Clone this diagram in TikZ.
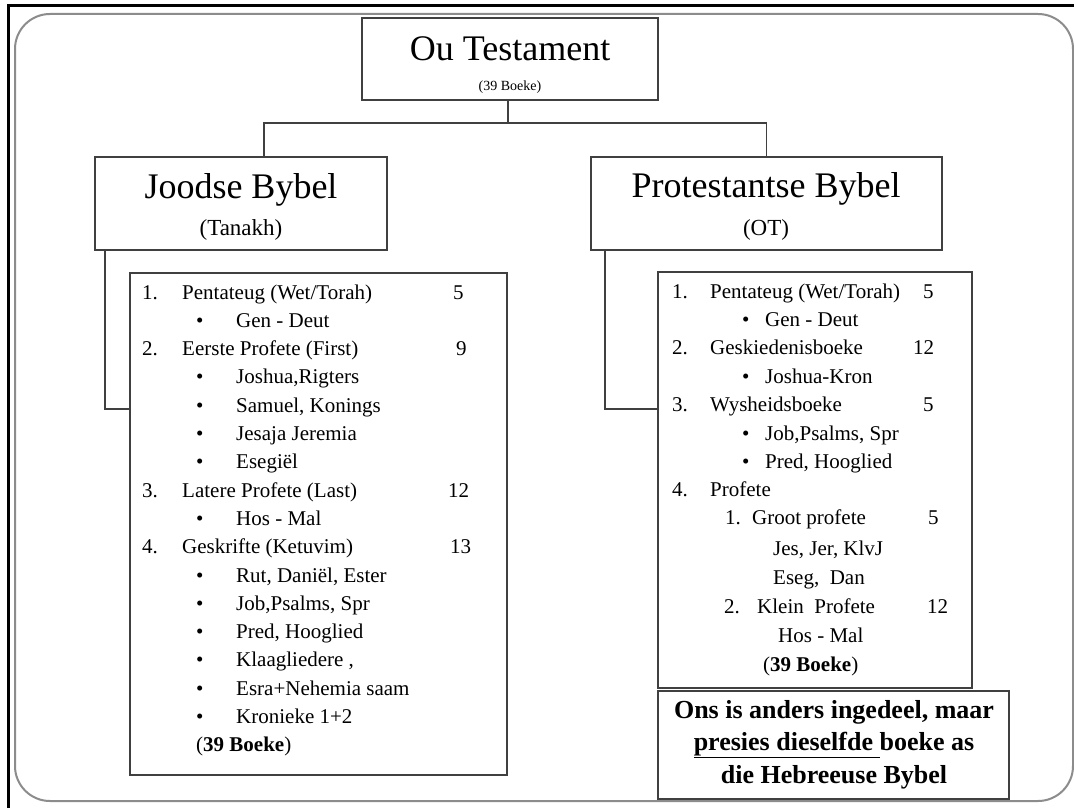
\documentclass[tikz,border=0pt]{standalone}
\usepackage{fontspec}
\setmainfont{Liberation Serif}
\definecolor{boxline}{HTML}{404040}
\definecolor{frameg}{HTML}{8C8C8C}
\newcommand\lfnt{\fontsize{21}{25}\selectfont}
\newcommand\hfnt{\fontsize{36}{40}\selectfont}
\newcommand\subfnt{\fontsize{23}{27}\selectfont}
\newcommand\nfnt{\fontsize{26}{30}\selectfont\bfseries}
\begin{document}
\begin{tikzpicture}[x=1pt,y=-1pt,
  bx/.style={draw=boxline,line width=1.3pt,anchor=north west,inner sep=0pt,outer sep=0pt},
  conn/.style={draw=boxline,line width=1.3pt},
  lt/.style={anchor=base west,inner sep=0pt,font=\lfnt},
  ct/.style={anchor=base,inner sep=0pt}]
\useasboundingbox (0,0) rectangle (1074,808);
\fill[white] (0,0) rectangle (1074,808);
% outer frame
\draw[line width=3pt,black] (8,808) -- (8,6) -- (1074,6);
\draw[frameg,line width=2pt,rounded corners=35pt] (15,14) rectangle (1073,801);
% boxes
\node[bx,minimum width=296pt,minimum height=82pt] (ot) at (362,18) {};
\node[bx,minimum width=292pt,minimum height=93pt] (jb) at (95,157) {};
\node[bx,minimum width=351pt,minimum height=93pt] (pb) at (591,157) {};
\node[bx,minimum width=377pt,minimum height=502pt] (jl) at (130,273) {};
\node[bx,minimum width=314pt,minimum height=416pt] (pl) at (658,272) {};
\node[bx,minimum width=351pt,minimum height=108pt] (note) at (658,691) {};
% connectors
\coordinate (j) at (508,123);
\coordinate (jtop) at (264,157);
\coordinate (jbot) at (105,250);
\coordinate (jin) at (130,409);
\coordinate (pbot) at (605,250);
\coordinate (pin) at (658,409);
\draw[conn] (ot.south -| j) -- (j);
\draw[conn] (jtop) |- (j) -| (pb.north);
\draw[conn] (jbot) |- (jin);
\draw[conn] (pbot) |- (pin);
% headings
\node[ct,font=\hfnt] (otA) at (510,60) {Ou Testament};
\node[ct,font=\fontsize{14}{16}\selectfont] (otB) at (510,91) {(39 Boeke)};
\node[ct,font=\hfnt] (jbA) at (241,198) {Joodse Bybel};
\node[ct,font=\subfnt] (jbB) at (241,235) {(Tanakh)};
\node[ct,font=\hfnt] (pbA) at (766,197) {Protestantse Bybel};
\node[ct,font=\subfnt] (pbB) at (766,235) {(OT)};
% left list
\node[lt] (l0n) at (142,{299+0*28.3}) {1.};
\node[lt] (l0) at (182,{299+0*28.3}) {Pentateug (Wet/Torah)};
\node[lt] (l0c) at (453,{299+0*28.3}) {5};
\node[lt] (l1b) at (196,{299+1*28.3}) {•};
\node[lt] (l1) at (236,{299+1*28.3}) {Gen - Deut};
\node[lt] (l2n) at (142,{299+2*28.3}) {2.};
\node[lt] (l2) at (182,{299+2*28.3}) {Eerste Profete (First)};
\node[lt] (l2c) at (456,{299+2*28.3}) {9};
\node[lt] (l3b) at (196,{299+3*28.3}) {•};
\node[lt] (l3) at (236,{299+3*28.3}) {Joshua,Rigters};
\node[lt] (l4b) at (196,{299+4*28.3}) {•};
\node[lt] (l4) at (236,{299+4*28.3}) {Samuel, Konings};
\node[lt] (l5b) at (196,{299+5*28.3}) {•};
\node[lt] (l5) at (236,{299+5*28.3}) {Jesaja Jeremia};
\node[lt] (l6b) at (196,{299+6*28.3}) {•};
\node[lt] (l6) at (236,{299+6*28.3}) {Esegiël};
\node[lt] (l7n) at (142,{299+7*28.3}) {3.};
\node[lt] (l7) at (182,{299+7*28.3}) {Latere Profete (Last)};
\node[lt] (l7c) at (448,{299+7*28.3}) {12};
\node[lt] (l8b) at (196,{299+8*28.3}) {•};
\node[lt] (l8) at (236,{299+8*28.3}) {Hos - Mal};
\node[lt] (l9n) at (142,{299+9*28.3}) {4.};
\node[lt] (l9) at (182,{299+9*28.3}) {Geskrifte (Ketuvim)};
\node[lt] (l9c) at (450,{299+9*28.3}) {13};
\node[lt] (l10b) at (196,{299+10*28.3}) {•};
\node[lt] (l10) at (236,{299+10*28.3}) {Rut, Daniël, Ester};
\node[lt] (l11b) at (196,{299+11*28.3}) {•};
\node[lt] (l11) at (236,{299+11*28.3}) {Job,Psalms, Spr};
\node[lt] (l12b) at (196,{299+12*28.3}) {•};
\node[lt] (l12) at (236,{299+12*28.3}) {Pred, Hooglied};
\node[lt] (l13b) at (196,{299+13*28.3}) {•};
\node[lt] (l13) at (236,{299+13*28.3}) {Klaagliedere ,};
\node[lt] (l14b) at (196,{299+14*28.3}) {•};
\node[lt] (l14) at (236,{299+14*28.3}) {Esra+Nehemia saam};
\node[lt] (l15b) at (196,{299+15*28.3}) {•};
\node[lt] (l15) at (236,{299+15*28.3}) {Kronieke 1+2};
\node[lt] (l16) at (196,{299+16*28.3}) {(\textbf{39 Boeke})};
% right list
\node[lt] (r0n) at (672,298) {1.};
\node[lt] (r0) at (710,298) {Pentateug (Wet/Torah)};
\node[lt] (r0c) at (923,298) {5};
\node[lt] (r1b) at (742,326) {•};
\node[lt] (r1) at (765,326) {Gen - Deut};
\node[lt] (r2n) at (672,354) {2.};
\node[lt] (r2) at (710,354) {Geskiedenisboeke};
\node[lt] (r2c) at (913,354) {12};
\node[lt] (r3b) at (742,383) {•};
\node[lt] (r3) at (765,383) {Joshua-Kron};
\node[lt] (r4n) at (672,411) {3.};
\node[lt] (r4) at (710,411) {Wysheidsboeke};
\node[lt] (r4c) at (923,411) {5};
\node[lt] (r5b) at (742,440) {•};
\node[lt] (r5) at (765,440) {Job,Psalms, Spr};
\node[lt] (r6b) at (742,468) {•};
\node[lt] (r6) at (765,468) {Pred, Hooglied};
\node[lt] (r7n) at (672,496) {4.};
\node[lt] (r7) at (710,496) {Profete};
\node[lt] (r8n) at (725,524) {1.};
\node[lt] (r8) at (752,524) {Groot profete};
\node[lt] (r8c) at (928,524) {5};
\node[lt] (r9) at (773,555) {Jes, Jer, KlvJ};
\node[lt] (r10) at (773,584) {Eseg,\ \ Dan};
\node[lt] (r11n) at (724,613) {2.};
\node[lt] (r11) at (757,613) {Klein\ \ Profete};
\node[lt] (r11c) at (927,613) {12};
\node[lt] (r12) at (778,642) {Hos - Mal};
\node[lt] (r13) at (763,671) {(\textbf{39 Boeke})};
% note
\node[ct,font=\nfnt] (n1) at (834,718) {Ons is anders ingedeel, maar};
\node[ct,font=\nfnt] (n2) at (834,750) {\underline{presies dieselfde }boeke as};
\node[ct,font=\nfnt] (n3) at (834,783) {die Hebreeuse Bybel};
\end{tikzpicture}
\end{document}
